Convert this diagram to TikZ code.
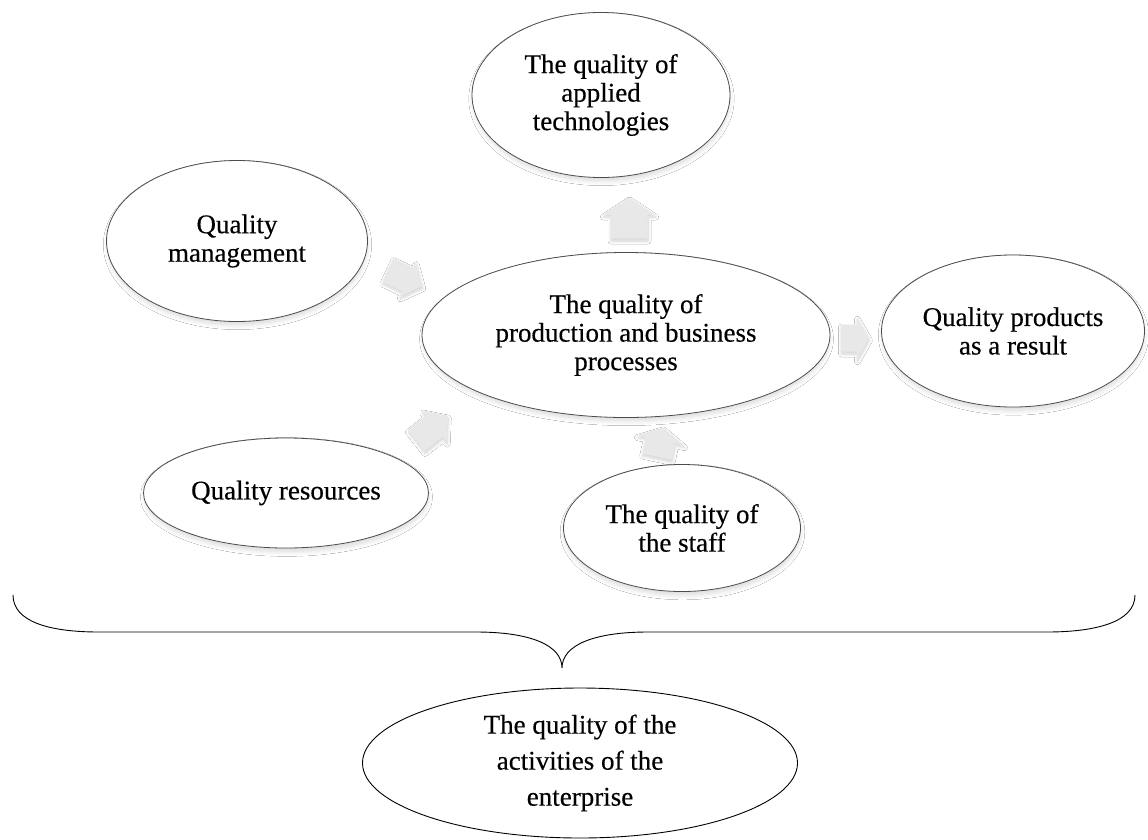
\documentclass[tikz,border=0pt]{standalone}
\usepackage{fontspec}
\setmainfont{Liberation Serif}[FakeBold=0.4]
\usetikzlibrary{shapes.geometric,shadows.blur}
\newcommand{\blockarr}[8]{%
  \begin{scope}[shift={(#2,#3)}, rotate=#4]
    \path[blk] (-#5/2,-#8) -- (#5/2-#6,-#8) -- (#5/2-#6,-#7) -- (#5/2,0)
      -- (#5/2-#6,#7) -- (#5/2-#6,#8) -- (-#5/2,#8) -- cycle;
    \coordinate (#1) at (0,0);
  \end{scope}}
\begin{document}
\begin{tikzpicture}[x=1pt,y=-1pt,
  oval/.style={ellipse, draw=black!70, line width=0.8pt, fill=white, inner sep=0pt, outer sep=0pt,
    align=center, font=\fontsize{27}{28.5}\selectfont,
    blur shadow={shadow xshift=0.5pt, shadow yshift=-4pt, shadow opacity=16, shadow blur radius=5pt, shadow blur steps=10, shadow scale=0.99}},
  plainoval/.style={ellipse, draw=black, line width=0.9pt, fill=white, inner sep=0pt, outer sep=0pt,
    align=center, font=\fontsize{27}{36}\selectfont},
  blk/.style={fill=black!9, draw=none,
    blur shadow={shadow xshift=0.5pt, shadow yshift=-2.5pt, shadow opacity=18, shadow blur radius=3pt, shadow blur steps=8}},
  bracestyle/.style={draw=black, line width=0.9pt}
]
\useasboundingbox (0,0) rectangle (1148,839);
\fill[white] (0,0) rectangle (1148,839);

\node[oval, minimum width=258pt, minimum height=165pt] (tech) at (601,95) {The quality of\\applied\\technologies};
\node[oval, minimum width=261pt, minimum height=161pt] (mgmt) at (237,241) {Quality\\management};
\node[oval, minimum width=408pt, minimum height=165pt] (proc) at (626,335) {The quality of\\production and business\\processes};
\node[oval, minimum width=263pt, minimum height=152pt] (prod) at (1013,331) {Quality products\\as a result};
\node[oval, minimum width=285pt, minimum height=110pt] (res) at (286,493) {Quality resources};
\node[oval, minimum width=237pt, minimum height=127pt] (staff) at (682,528) {The quality of\\the staff};
\node[plainoval, minimum width=435pt, minimum height=150pt] (ent) at (580,763) {The quality of the\\activities of the\\enterprise};

\blockarr{a1}{405}{278}{-25}{38}{16}{19}{13}
\blockarr{a2}{629}{218}{90}{41}{17}{26}{18.5}
\blockarr{a3}{855}{338}{0}{28}{12}{21}{13.5}
\blockarr{a4}{432}{428}{38}{40}{17}{20}{13.5}
\blockarr{a5}{660}{442}{78}{30}{13}{24}{15}

\draw[bracestyle] (13,595) .. controls (13,622) and (50,632) .. (99,632) -- (476,632)
  .. controls (530,632) and (562,645) .. (562,668)
  .. controls (562,645) and (594,632) .. (648,632) -- (1047,632)
  .. controls (1096,632) and (1135,622) .. (1135,595);
\end{tikzpicture}
\end{document}
